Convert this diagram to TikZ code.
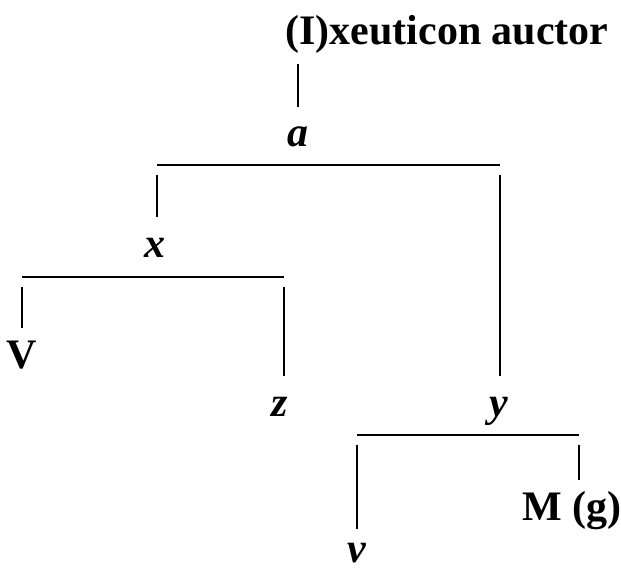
\documentclass[tikz,border=0pt]{standalone}
\usepackage{fontspec}
\setmainfont{Liberation Serif}

\begin{document}
\begin{tikzpicture}[x=0.5pt,y=-0.5pt,
    lbl/.style={inner sep=0pt, text height=14.5pt, text depth=4.5pt, font=\fontsize{21}{25}\selectfont\bfseries},
    var/.style={lbl, font=\fontsize{21}{25}\selectfont\bfseries\itshape},
    bar/.style={draw=black, line width=1.2pt},
    stem/.style={draw=black, line width=1.4pt, shorten <=5pt, shorten >=5.5pt}]
\useasboundingbox (0,0) rectangle (621,572);
\node[lbl, anchor=base west] (title) at (285,45) {(I)xeuticon\ auctor};
\node[var, anchor=base] (a) at (298,147) {a};
\node[var, anchor=base] (x) at (155,257) {x};
\node[var, anchor=base] (y) at (499,416) {y};
\node[lbl, anchor=base] (V) at (22,368) {V};
\node[var, anchor=base] (z) at (280,416) {z};
\node[var, anchor=base] (v) at (357,562) {v};
\node[lbl, anchor=base] (M) at (572,520) {M (g)};
\draw[stem] (a |- title.south) -- (a.north);
\coordinate (aL) at (157,165);
\coordinate (aR) at (500,165);
\draw[bar] (aL) -- (aR);
\draw[stem] (aL) -- (aL |- x.north);
\draw[stem] (aR) -- (aR |- y.north);
\coordinate (xL) at (22,277);
\coordinate (xR) at (284,277);
\draw[bar] (xL) -- (xR);
\draw[stem] (xL) -- (xL |- V.north);
\draw[stem] (xR) -- (xR |- z.north);
\coordinate (yL) at (357,435);
\coordinate (yR) at (579,435);
\draw[bar] (yL) -- (yR);
\draw[stem, shorten >=2pt] (yL) -- (yL |- v.north);
\draw[stem] (yR) -- (yR |- M.north);
\end{tikzpicture}
\end{document}
